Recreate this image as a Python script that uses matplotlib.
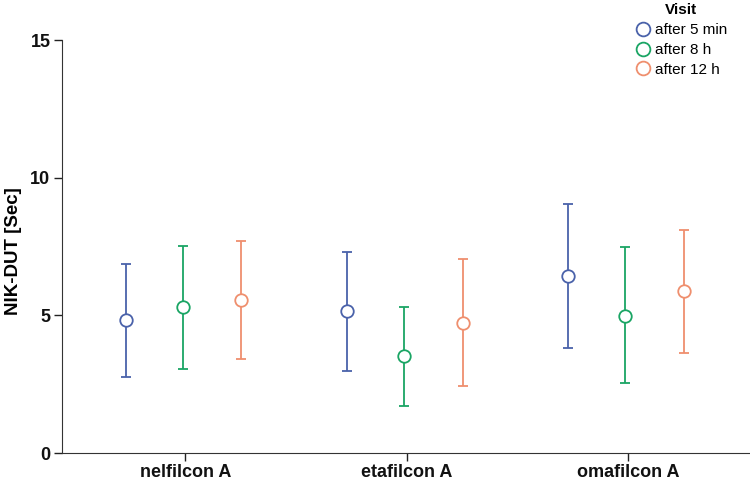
import matplotlib.pyplot as plt
import numpy as np

plt.rcParams['font.family'] = ['Liberation Sans', 'DejaVu Sans']

# lenses and visits
lenses = ['nelfilcon A', 'etafilcon A', 'omafilcon A']
visits = ['after 5 min', 'after 8 h', 'after 12 h']
colors = ['#4a62aa', '#1aa564', '#ef8f6e']

# mean and error bar ends
means = [
    [4.83, 5.17, 6.44],   # after 5 min
    [5.30, 3.52, 4.99],   # after 8 h
    [5.55, 4.73, 5.90],   # after 12 h
]
upper = [
    [6.87, 7.31, 9.03],
    [7.52, 5.31, 7.47],
    [7.70, 7.05, 8.10],
]
lower = [
    [2.75, 2.98, 3.82],
    [3.06, 1.72, 2.53],
    [3.43, 2.44, 3.64],
]
offsets = [-0.27, -0.013, 0.253]

fig = plt.figure(figsize=(7.5, 4.84), dpi=100)
ax = fig.add_axes([0.082, 0.064, 0.918, 0.853])

x = np.arange(len(lenses))
for i in range(len(visits)):
    m = np.array(means[i])
    err = [m - np.array(lower[i]), np.array(upper[i]) - m]
    ax.errorbar(x + offsets[i], m, yerr=err, fmt='none', ecolor=colors[i],
                elinewidth=1.3, capsize=3.5, capthick=1.3)
    ax.plot(x + offsets[i], m, 'o', ms=9, mfc='white', mec=colors[i],
            mew=1.3, label=visits[i], zorder=3)

ax.set_xlim(-0.56, 2.55)
ax.set_ylim(0, 15)
ax.set_yticks([0, 5, 10, 15])
ax.set_xticks(x)
ax.set_xticklabels(lenses)
for lab in ax.get_xticklabels() + ax.get_yticklabels():
    lab.set_fontweight('bold')
    lab.set_fontsize(13)
ax.tick_params(direction='out', length=6, width=1, pad=2, colors='#222222', labelcolor='#111111')
ax.spines['top'].set_visible(False)
ax.spines['right'].set_visible(False)
ax.spines['left'].set_color('#333333')
ax.spines['bottom'].set_color('#333333')
ax.set_ylabel('NIK-DUT [Sec]', fontsize=13.5, fontweight='bold')
ax.yaxis.set_label_coords(-0.058, 0.49)

leg = ax.legend(loc='upper right', bbox_to_anchor=(0.982, 1.012), bbox_transform=fig.transFigure,
                frameon=False, fontsize=11, title='Visit', handletextpad=0.2,
                labelspacing=0.38, borderpad=0.1, handlelength=1.2, markerscale=1.1,
                title_fontproperties={'weight': 'bold', 'size': 11})

fig.savefig('out.png', dpi=100)
